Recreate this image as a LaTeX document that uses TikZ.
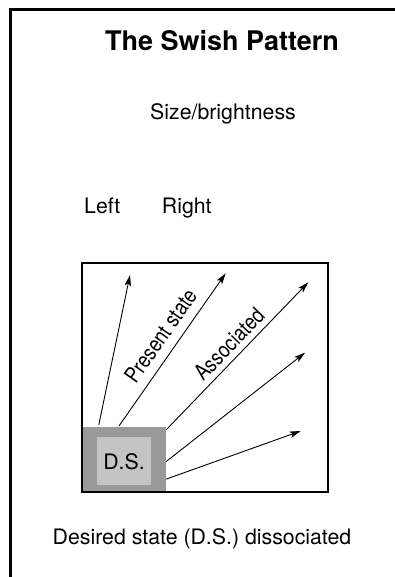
\documentclass[tikz,border=0pt]{standalone}
\usepackage{fontspec}
\setmainfont{TeX Gyre Heros}
\usetikzlibrary{arrows.meta,calc}
\definecolor{dsdark}{HTML}{999999}
\definecolor{dslight}{HTML}{C4C4C4}
\tikzset{
  txt/.style={inner sep=0pt, anchor=base, font=\fontsize{21.3}{25}\selectfont},
  rtxt/.style={inner sep=0pt, font=\fontsize{22}{26}\selectfont},
  ray/.style={line width=0.9pt, -{Stealth[length=11pt,width=6.5pt,inset=2.5pt]}},
}
\begin{document}
\begin{tikzpicture}[x=1pt,y=-1pt]
\useasboundingbox (0,0) rectangle (395,577);
\draw[line width=3pt] (10,578) -- (10,10) -- (396,10);
\node[inner sep=0pt, anchor=base, font=\bfseries\fontsize{27}{32}\selectfont] (title) at (222,50.7) {The Swish Pattern};
\node[txt] (size) at (223,120) {Size/brightness};
\node[txt, anchor=base west] (left) at (84,213) {Left};
\node[txt, anchor=base west] (right) at (161.7,213) {Right};
\node[txt] (desired) at (202,544) {Desired state (D.S.) dissociated};
% D.S. boxes
\node[fill=dsdark, inner sep=0pt, minimum width=84pt, minimum height=65pt] (ds) at (124,459.5) {};
\node[fill=dslight, inner sep=0pt, minimum width=54pt, minimum height=48pt] (dsin) at (124,461) {};
\node[txt] (dstext) at (124,469) {D.S.};
% frame
\node[draw, line width=2pt, inner sep=0pt, minimum width=246pt, minimum height=229pt] (frame) at (205,377.5) {};
% arrow ends
\coordinate (e1) at (130,275);
\coordinate (e2) at (225.7,273.3);
\coordinate (e3) at (308.3,282.3);
\coordinate (e4) at (305,352.7);
\coordinate (e5) at (300.7,431);
\draw[ray] ($(ds.north west)+(17,-2)$) -- (e1);
\draw[ray] ($(ds.north west)+(37.3,-1)$) -- (e2);
\draw[ray] ($(ds.north east)+(0,3)$) -- (e3);
\draw[ray] ($(ds.north east)+(0,34.7)$) -- (e4);
\draw[ray] ($(ds.north east)+(0,52.3)$) -- (e5);
\node[rtxt, rotate=55] (present) at (160.5,336) {\scalebox{0.84}[1]{Present state}};
\node[rtxt, rotate=46] (assoc) at (229,344) {\scalebox{0.84}[1]{Associated}};
\end{tikzpicture}
\end{document}
